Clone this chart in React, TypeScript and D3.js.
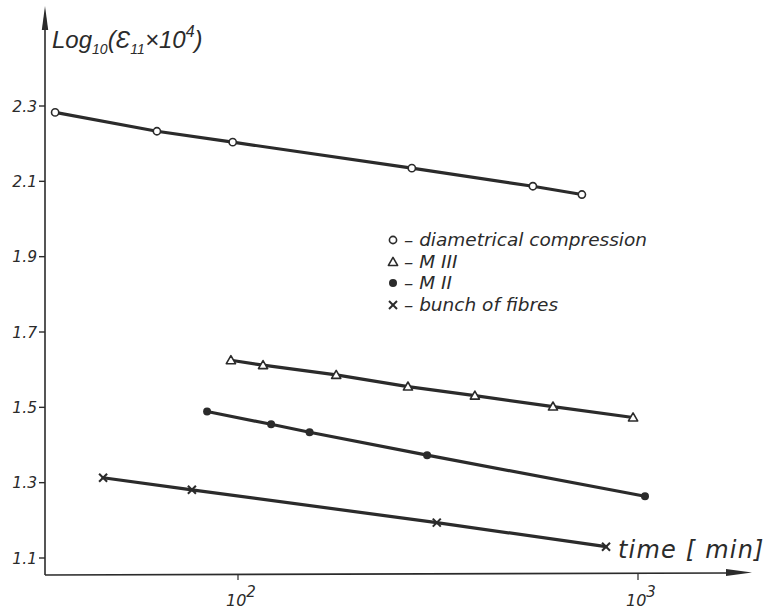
import React from "react";
import * as d3 from "d3";

// ---- data (time in minutes, value = log10(eps11 x 10^4)) ----
const diamTime = [34.9, 62.7, 97, 272, 546, 724];
const diamVal = [2.283, 2.233, 2.204, 2.135, 2.087, 2.065];

const m3Time = [96, 115.5, 176, 266, 391, 613, 972];
const m3Val = [1.625, 1.612, 1.586, 1.555, 1.531, 1.502, 1.473];

const m2Time = [83.7, 121, 151, 297, 1041];
const m2Val = [1.489, 1.455, 1.434, 1.373, 1.264];

const fibTime = [46, 76.7, 314, 832];
const fibVal = [1.313, 1.281, 1.194, 1.13];

const yTicks = [1.1, 1.3, 1.5, 1.7, 1.9, 2.1, 2.3];
const xTicks = [100, 1000];
const xTickExp = ["2", "3"];

const legendLabels = ["diametrical compression", "M III", "M II", "bunch of fibres"];

const W = 765;
const H = 614;
const INK = "#2b2b2b";
const FONT = "'DejaVu Sans', sans-serif";
const FONT2 = "'Liberation Sans', Arial, sans-serif";

const x = d3.scaleLog().domain([100, 1000]).range([238, 638]);
const y = d3.scaleLinear().domain([1.1, 2.3]).range([558, 106]);

const AX_X = 45;
const AX_Y = 575;

type Kind = "circle" | "tri" | "dot" | "cross";

function Marker({ cx, cy, kind }: { cx: number; cy: number; kind: Kind }) {
  if (kind === "circle")
    return <circle cx={cx} cy={cy} r={3.6} fill="#fff" stroke={INK} strokeWidth={1.6} />;
  if (kind === "dot") return <circle cx={cx} cy={cy} r={4} fill={INK} />;
  if (kind === "tri") {
    const s = 4.6;
    const p = `${cx},${cy - s} ${cx + s},${cy + s * 0.75} ${cx - s},${cy + s * 0.75}`;
    return <polygon points={p} fill="#fff" stroke={INK} strokeWidth={1.6} strokeLinejoin="round" />;
  }
  const s = 4;
  return (
    <g stroke={INK} strokeWidth={2}>
      <line x1={cx - s} y1={cy - s} x2={cx + s} y2={cy + s} />
      <line x1={cx - s} y1={cy + s} x2={cx + s} y2={cy - s} />
    </g>
  );
}

function Series({ t, v, kind }: { t: number[]; v: number[]; kind: Kind }) {
  const pts: [number, number][] = t.map((ti, i) => [x(ti), y(v[i])]);
  const line = d3.line();
  return (
    <g>
      <path d={line(pts) || ""} fill="none" stroke={INK} strokeWidth={3.2} strokeLinecap="round" />
      {pts.map((p, i) => (
        <Marker key={i} cx={p[0]} cy={p[1]} kind={kind} />
      ))}
    </g>
  );
}

export default function App() {
  const kinds: Kind[] = ["circle", "tri", "dot", "cross"];
  const legendY = [240, 262, 283, 305];
  return (
    <svg
      width={W}
      height={H}
      viewBox={`0 0 ${W} ${H}`}
      style={{ position: "absolute", left: 0, top: 0, background: "#fff" }}
    >
      <rect width={W} height={H} fill="#fff" />
      {/* y axis */}
      <line x1={AX_X} y1={AX_Y} x2={AX_X} y2={26} stroke={INK} strokeWidth={1.6} />
      <polygon points={`${AX_X},6 ${AX_X + 3.2},30 ${AX_X - 3.2},30`} fill={INK} />
      {/* x axis */}
      <line x1={AX_X} y1={AX_Y} x2={728} y2={AX_Y - 2} stroke={INK} strokeWidth={1.6} />
      <polygon points={`752,${AX_Y - 2.5} 726,${AX_Y - 6} 726,${AX_Y + 1}`} fill={INK} />

      {/* y ticks */}
      {yTicks.map((t) => (
        <g key={t}>
          <line x1={AX_X - 6} x2={AX_X} y1={y(t)} y2={y(t)} stroke={INK} strokeWidth={1.4} />
          <text
            x={AX_X - 8}
            y={y(t) + 5.5}
            textAnchor="end"
            fontFamily={FONT}
            fontStyle="italic"
            fontSize={15.5}
            fill={INK}
          >
            {t.toFixed(1)}
          </text>
        </g>
      ))}

      {/* x ticks */}
      {xTicks.map((t, i) => (
        <g key={t}>
          <line x1={x(t)} x2={x(t)} y1={AX_Y - 1} y2={AX_Y + 5} stroke={INK} strokeWidth={1.2} />
          <text x={x(t) - 12} y={AX_Y + 31} fontFamily={FONT} fontStyle="italic" fontSize={16} fill={INK}>
            10
            <tspan dy={-9} fontSize={15}>
              {xTickExp[i]}
            </tspan>
          </text>
        </g>
      ))}

      {/* axis titles */}
      <text
        x={618}
        y={558}
        fontFamily={FONT}
        fontStyle="italic"
        fontSize={24}
        letterSpacing={1.2}
        fill={INK}
      >
        time [ min]
      </text>
      <text x={52} y={48} fontFamily={FONT2} fontStyle="italic" fontSize={24} fill={INK}>
        Log
        <tspan fontSize={14} dy={6}>10</tspan>
        <tspan dy={-6}>(Ɛ</tspan>
        <tspan fontSize={14} dy={6}>11</tspan>
        <tspan dy={-6}>×10</tspan>
        <tspan fontSize={16} dy={-11}>4</tspan>
        <tspan dy={11}>)</tspan>
      </text>

      {/* series */}
      <Series t={diamTime} v={diamVal} kind="circle" />
      <Series t={m3Time} v={m3Val} kind="tri" />
      <Series t={m2Time} v={m2Val} kind="dot" />
      <Series t={fibTime} v={fibVal} kind="cross" />

      {/* legend */}
      {legendLabels.map((lab, i) => (
        <g key={lab}>
          <Marker cx={393} cy={legendY[i]} kind={kinds[i]} />
          <text
            x={404}
            y={legendY[i] + 6}
            fontFamily={FONT}
            fontStyle="italic"
            fontSize={18.5}
            fill={INK}
          >
            {"– " + lab}
          </text>
        </g>
      ))}
    </svg>
  );
}
